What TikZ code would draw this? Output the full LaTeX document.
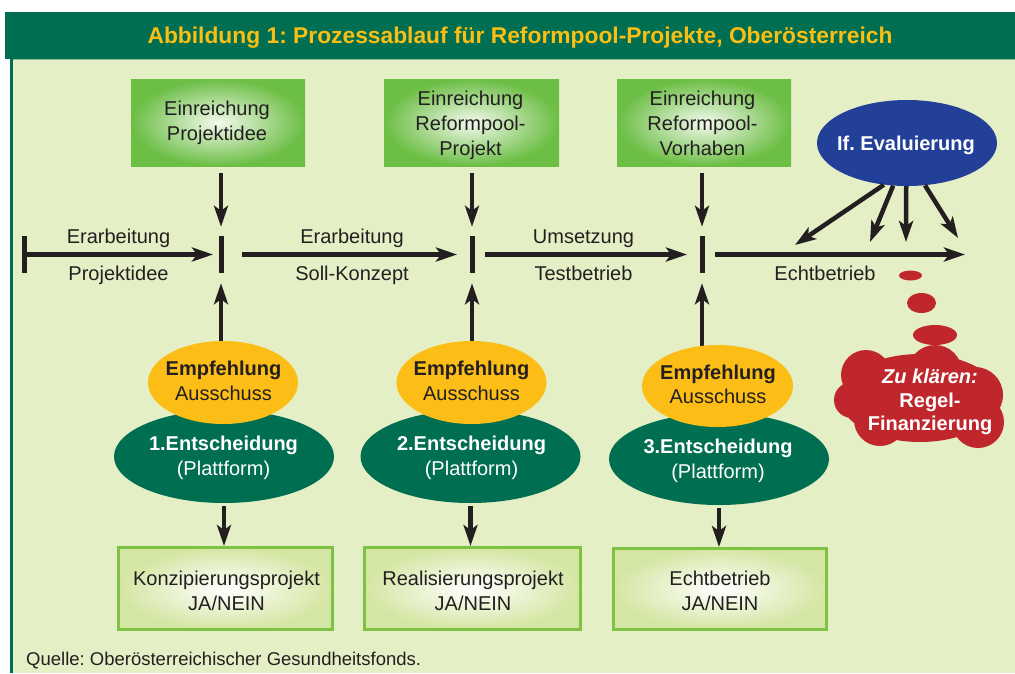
\documentclass[tikz,border=0pt]{standalone}
\usepackage{fontspec}
\setmainfont{Liberation Sans}
\usetikzlibrary{arrows.meta,shapes.geometric}
\frenchspacing
\definecolor{dkgreen}{RGB}{0,110,80}
\definecolor{bgl}{RGB}{229,239,198}
\definecolor{ttl}{RGB}{250,190,20}
\definecolor{ylw}{RGB}{252,190,22}
\definecolor{boxgreen}{RGB}{108,190,69}
\definecolor{boxlight}{RGB}{242,249,236}
\definecolor{botborder}{RGB}{125,194,66}
\definecolor{botfill}{RGB}{212,230,163}
\definecolor{evblue}{RGB}{35,64,152}
\definecolor{cloudred}{RGB}{192,39,45}
\definecolor{ink}{RGB}{35,31,32}
\tikzset{
  arr/.style={draw=ink, line width=4.5pt, -{Stealth[length=21pt,width=14pt,inset=5pt]}},
  topbox/.style={rectangle, inner sep=0, minimum height=87pt, inner color=boxlight, outer color=boxgreen},
  botbox/.style={rectangle, inner sep=0, draw=botborder, line width=3pt, inner color=white, outer color=botfill},
  barnode/.style={rectangle, inner sep=0, fill=ink, minimum width=5pt, minimum height=37pt},
  yell/.style={ellipse, inner sep=0, fill=ylw, minimum width=150pt, minimum height=83pt},
  grn/.style={ellipse, inner sep=0, fill=dkgreen, minimum width=220pt, minimum height=93pt},
  txt/.style={inner sep=0, anchor=base, text=ink, font=\fontsize{20}{25}\selectfont},
  btxt/.style={txt, font=\fontsize{20}{25}\selectfont\bfseries},
  wtxt/.style={txt, text=white},
  wbtxt/.style={btxt, text=white},
  bubble/.style={ellipse, inner sep=0, fill=cloudred}
}
\begin{document}
\begin{tikzpicture}[x=1pt,y=-1pt]
\useasboundingbox (0,0) rectangle (1015,673);
\fill[white] (0,0) rectangle (1015,673);
% frame
\fill[bgl] (12,59) rectangle (1015,673);
\fill[dkgreen] (5,12) rectangle (1015,59);
\draw[bgl!60!dkgreen, line width=1pt] (12,59.5) -- (1015,59.5);
\fill[dkgreen] (10,59) rectangle (13,673);
\node[inner sep=0, anchor=base, text=ttl, font=\fontsize{22.8}{27}\selectfont\bfseries] (title) at (520,43) {Abbildung 1: Prozessablauf für Reformpool-Projekte, Oberösterreich};

% top boxes
\node[topbox, minimum width=174pt] (top1) at (218,122.5) {};
\node[topbox, minimum width=175pt] (top2) at (471.5,122.5) {};
\node[topbox, minimum width=174pt] (top3) at (704,122.5) {};
\node[txt] (t1a) at (217,115) {Einreichung};
\node[txt] (t1b) at (217,140) {Projektidee};
\node[txt] (t2a) at (470.5,105) {Einreichung};
\node[txt] (t2b) at (470.5,130) {Reformpool-};
\node[txt] (t2c) at (470.5,155) {Projekt};
\node[txt] (t3a) at (702.5,105) {Einreichung};
\node[txt] (t3b) at (702.5,130) {Reformpool-};
\node[txt] (t3c) at (702.5,155) {Vorhaben};

% bars on the timeline
\node[barnode] (b0) at (24,254.5) {};
\node[barnode] (b1) at (221,254.5) {};
\node[barnode] (b2) at (472,254.5) {};
\node[barnode] (b3) at (702,254.5) {};
\coordinate (tend) at (965,254.5);

% horizontal arrows
\draw[arr, shorten >=8pt] (b0.center) -- (b1.center);
\draw[arr, shorten <=21pt, shorten >=15pt] (b1.center) -- (b2.center);
\draw[arr, shorten <=13pt, shorten >=15pt] (b2.center) -- (b3.center);
\draw[arr, shorten <=13pt] (b3.center) -- (tend);

% timeline labels
\node[txt] (l1a) at (118.5,243) {Erarbeitung};
\node[txt] (l1b) at (118.5,280) {Projektidee};
\node[txt] (l2a) at (352,243) {Erarbeitung};
\node[txt] (l2b) at (352,280) {Soll-Konzept};
\node[txt] (l3a) at (583.5,243) {Umsetzung};
\node[txt] (l3b) at (583.5,280) {Testbetrieb};
\node[txt] (l4b) at (825,280) {Echtbetrieb};

% down arrows from top boxes
\draw[arr, shorten <=7pt, shorten >=9pt] (top1.south -| b1.center) -- (b1.north);
\draw[arr, shorten <=7pt, shorten >=9pt] (top2.south -| b2.center) -- (b2.north);
\draw[arr, shorten <=7pt, shorten >=9pt] (top3.south -| b3.center) -- (b3.north);

% decision ellipses
\node[grn] (g1) at (224,456.5) {};
\node[grn] (g2) at (470.5,456.5) {};
\node[grn, minimum height=92pt] (g3) at (719,459) {};
\coordinate (y1top) at (221,342);
\coordinate (y2top) at (472,342);
\coordinate (y3top) at (702,346);
\draw[arr, shorten >=10pt] (y1top) -- (b1.south);
\draw[arr, shorten >=10pt] (y2top) -- (b2.south);
\draw[arr, shorten >=10pt] (y3top) -- (b3.south);
\node[yell] (y1) at (223,382.5) {};
\node[yell] (y2) at (471.5,382.5) {};
\node[yell, minimum width=151pt, minimum height=82pt] (y3) at (717.5,386) {};

\node[btxt] (e1a) at (223.5,375) {Empfehlung};
\node[txt] (e1b) at (223.5,400) {Ausschuss};
\node[wbtxt] (d1a) at (223.5,450) {1.Entscheidung};
\node[wtxt] (d1b) at (223.5,475) {(Plattform)};
\node[btxt] (e2a) at (471.5,375) {Empfehlung};
\node[txt] (e2b) at (471.5,400) {Ausschuss};
\node[wbtxt] (d2a) at (471.5,450) {2.Entscheidung};
\node[wtxt] (d2b) at (471.5,475) {(Plattform)};
\node[btxt] (e3a) at (718,379) {Empfehlung};
\node[txt] (e3b) at (718,403) {Ausschuss};
\node[wbtxt] (d3a) at (718,453) {3.Entscheidung};
\node[wtxt] (d3b) at (718,478) {(Plattform)};

% bottom boxes
\node[botbox, minimum width=214pt, minimum height=82pt] (bot1) at (225.5,588.5) {};
\node[botbox, minimum width=216pt, minimum height=82pt] (bot2) at (472.5,588.5) {};
\node[botbox, minimum width=213pt, minimum height=81pt] (bot3) at (720,589) {};
\draw[arr, shorten <=3pt] (g1.south) -- (g1.south |- bot1.north);
\draw[arr, shorten <=3pt] (g2.south) -- (g2.south |- bot2.north);
\draw[arr, shorten <=3pt] (g3.south) -- (g3.south |- bot3.north);
\node[txt] (k1a) at (226.5,585) {Konzipierungsprojekt};
\node[txt] (k1b) at (226.5,610) {JA/NEIN};
\node[txt] (k2a) at (473,585) {Realisierungsprojekt};
\node[txt] (k2b) at (473,610) {JA/NEIN};
\node[txt] (k3a) at (720,585) {Echtbetrieb};
\node[txt] (k3b) at (720,610) {JA/NEIN};

% evaluation
\node[ellipse, inner sep=0, fill=evblue, minimum width=180pt, minimum height=86pt] (ev) at (907,143) {};
\node[wbtxt] (evt) at (906,150) {If. Evaluierung};
\coordinate (ea) at (795,245);
\coordinate (eb) at (870,242);
\coordinate (ec) at (906,242);
\coordinate (ed) at (958,238);
\draw[arr] (ev.241) -- (ea);
\draw[arr] (ev.252) -- (eb);
\draw[arr] (ev.269) -- (ec);
\draw[arr] (ev.293) -- (ed);

% thought bubbles and cloud
\node[bubble, minimum width=23pt, minimum height=10pt] (p1) at (910.5,275.5) {};
\node[bubble, minimum width=29pt, minimum height=20pt] (p2) at (921.5,303) {};
\node[bubble, minimum width=44pt, minimum height=20pt] (p3) at (935,335) {};
\fill[cloudred] (920,398) ellipse (80pt and 44pt)
  (866,375) circle (25pt)
  (935,372) circle (27pt)
  (975,395) circle (28pt)
  (978,422) circle (26pt)
  (880,420) circle (26pt)
  (852,400) circle (18pt);
\node[wbtxt, font=\fontsize{20}{25}\selectfont\bfseries\itshape] (c1) at (930,383) {Zu klären:};
\node[wbtxt] (c2) at (930,407) {Regel-};
\node[wbtxt] (c3) at (930,430) {Finanzierung};

% source
\node[inner sep=0, anchor=base west, text=ink, font=\fontsize{18.5}{22}\selectfont] (src) at (26,665) {Quelle: Oberösterreichischer Gesundheitsfonds.};
\end{tikzpicture}
\end{document}
